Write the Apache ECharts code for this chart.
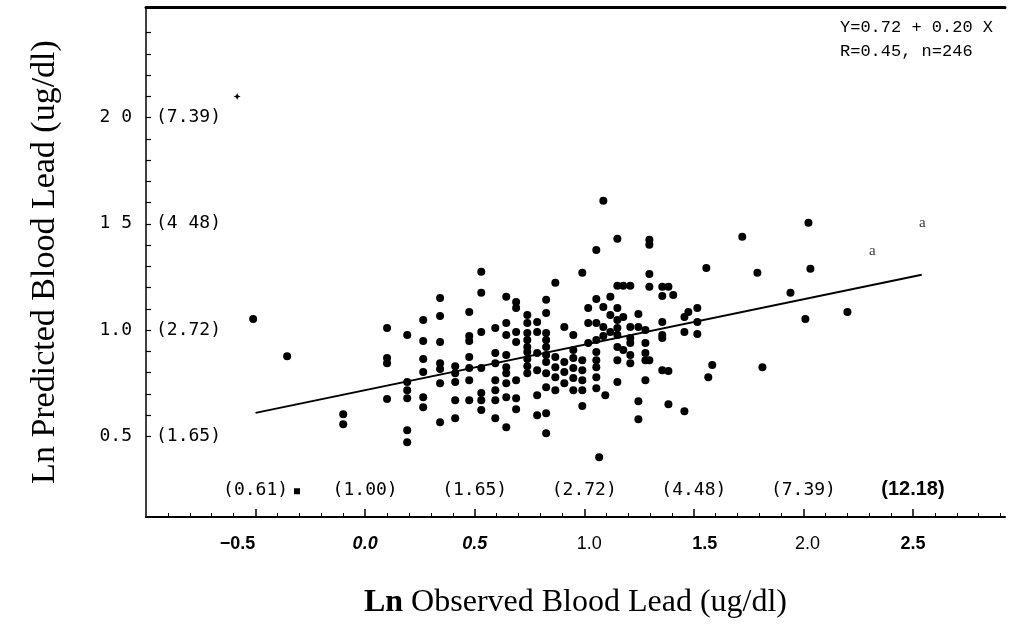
<!DOCTYPE html>
<html>
<head>
<meta charset="utf-8">
<script src="https://cdn.jsdelivr.net/npm/echarts@6/dist/echarts.min.js"></script>
<style>html,body{margin:0;padding:0;background:#fff;}#c{width:1010px;height:636px;}</style>
</head>
<body>
<div id="c"></div>
<script>
// ---- data ----
const obsColumns = [-0.511,-0.356,-0.100,0.100,0.192,0.265,0.342,0.411,0.475,0.530,0.594,0.644,0.689,0.740,0.785,0.826,0.868,0.909,0.950,0.991,1.018,1.055,1.068,1.087,1.096,1.119,1.151,1.178,1.210,1.247,1.279,1.297,1.356,1.384,1.406,1.457,1.475,1.516,1.557,1.566,1.584,1.721,1.790,1.813,1.941,2.009,2.023,2.032,2.201];
const predByColumn = [
  [1.052],
  [0.877],
  [0.604,0.557],
  [1.009,0.868,0.844,0.675],
  [0.976,0.755,0.717,0.679,0.528,0.472],
  [1.047,0.948,0.863,0.802,0.684,0.637],
  [1.151,1.066,0.943,0.844,0.816,0.750,0.566],
  [0.830,0.797,0.755,0.670,0.585],
  [1.085,0.972,0.948,0.873,0.821,0.764,0.670],
  [1.274,1.175,0.991,0.821,0.703,0.670,0.623],
  [1.009,0.892,0.844,0.764,0.717,0.670,0.585],
  [1.156,1.033,0.976,0.882,0.825,0.797,0.750,0.684,0.542],
  [1.132,1.104,0.991,0.943,0.764,0.679,0.627],
  [1.071,1.033,0.986,0.953,0.920,0.896,0.863,0.830,0.797],
  [1.038,0.991,0.892,0.811,0.693,0.599],
  [1.142,1.080,0.986,0.953,0.920,0.882,0.849,0.797,0.731,0.608,0.514],
  [1.222,0.873,0.825,0.778,0.717],
  [1.014,0.849,0.802,0.750],
  [0.976,0.906,0.868,0.821,0.774,0.717],
  [1.269,0.858,0.811,0.764,0.717,0.642],
  [1.104,1.033,0.939],
  [1.377,1.146,1.033,0.953,0.896,0.858,0.825,0.778,0.726],
  [0.401],
  [1.608,1.108,1.014,0.972],
  [0.693],
  [1.156,1.071,0.991],
  [1.429,1.208,1.104,1.047,1.009,0.976,0.920,0.858,0.755],
  [1.208,1.061,0.906],
  [1.208,1.014,0.962,0.939,0.882,0.844],
  [1.075,1.014,0.665,0.580],
  [1.000,0.939,0.892,0.858,0.764],
  [1.425,1.401,1.264,1.203,0.858],
  [1.203,1.160,1.038,0.976,0.962,0.811],
  [1.203,0.807,0.651],
  [1.165],
  [1.061,0.991,0.618],
  [1.085],
  [1.104,1.038,0.981],
  [1.292],
  [0.778],
  [0.835],
  [1.439],
  [1.269],
  [0.825],
  [1.175],
  [1.052],
  [1.505],
  [1.288],
  [1.085]
];
const starPoints = [[-0.584, 2.099]];
const crossPoints = [[-0.311, 0.241]];
const letterPoints = [[2.315, 1.373], [2.543, 1.505]];
const fitLine = [[-0.50, 0.61], [2.54, 1.26]];

const yTickValues = [0.5, 1.0, 1.5, 2.0];
const yTickLabels = ['0.5', '1.0', '1 5', '2 0'];
const yBackLabels = ['(1.65)', '(2.72)', '(4 48)', '(7.39)'];
const yMinorTicks = [0.5,0.6,0.7,0.8,0.9,1.0,1.1,1.2,1.3,1.4,1.5,1.6,1.7,1.8,1.9,2.0,2.1,2.2,2.3,2.4];
const xTickValues = [-0.5, 0, 0.5, 1.0, 1.5, 2.0, 2.5];
const xTickLabels = ['\u22120.5', '0.0', '0.5', '1.0', '1.5', '2.0', '2.5'];
const xBackLabels = ['(0.61)', '(1.00)', '(1.65)', '(2.72)', '(4.48)', '(7.39)', '(12.18)'];
const xMinorTicks = [-0.9,-0.8,-0.7,-0.6,-0.4,-0.3,-0.2,-0.1,0.1,0.2,0.3,0.4,0.6,0.7,0.8,0.9,1.1,1.2,1.3,1.4,1.6,1.7,1.8,1.9,2.1,2.2,2.3,2.4,2.6,2.7,2.8,2.9];

// ---- build ----
const dots = [];
obsColumns.forEach((x, i) => predByColumn[i].forEach(y => dots.push([x, y])));

function idxOf(arr, v) {
  for (let i = 0; i < arr.length; i++) if (Math.abs(arr[i] - v) < 1e-6) return i;
  return -1;
}
const mono = 'DejaVu Sans Mono';
const xStyles = ['s0','s1','s2','s3','s4','s5','s6'];
const xRich = {
  s0: {fontFamily:'Liberation Sans', fontWeight:'bold', fontSize:18, color:'#000', padding:[0,36,0,0]},
  s1: {fontFamily:'Liberation Sans', fontWeight:'bold', fontStyle:'italic', fontSize:18, color:'#000'},
  s2: {fontFamily:'Liberation Sans', fontWeight:'bold', fontStyle:'italic', fontSize:18, color:'#000'},
  s3: {fontFamily:'Liberation Sans', fontSize:18, color:'#000', padding:[0,0,0,10]},
  s4: {fontFamily:'Liberation Sans', fontWeight:'bold', fontSize:18, color:'#000', padding:[0,0,0,22]},
  s5: {fontFamily:'Liberation Sans', fontSize:18, color:'#000', padding:[0,0,0,8]},
  s6: {fontFamily:'Liberation Sans', fontWeight:'bold', fontSize:18, color:'#000'}
};
const xBackRich = {
  m: {fontFamily: mono, fontSize:18, color:'#000'},
  b: {fontFamily:'Liberation Sans', fontWeight:'bold', fontSize:20, color:'#000'}
};

const chart = echarts.init(document.getElementById('c'), null, {renderer:'canvas'});
const xMin = -1.0, xMax = 2.92, yMin = 0.12, yMax = 2.52;
chart.setOption({
  animation: false,
  backgroundColor: '#fff',
  title: {
    text: 'Y=0.72 + 0.20 X\nR=0.45, n=246',
    right: 12, top: 10,
    textStyle: {fontFamily:'Liberation Mono', fontSize:17, fontWeight:'normal', color:'#000', lineHeight:24}
  },
  grid: {left: 146, right: 5, top: 7, bottom: 119, containLabel: false},
  xAxis: [
    {
      type:'value', min:xMin, max:xMax, position:'bottom',
      axisLine:{show:true, onZero:false, lineStyle:{color:'#000', width:2}},
      axisTick:{show:true, inside:true, length:8, customValues:xTickValues, lineStyle:{color:'#000', width:1.5}},
      splitLine:{show:false},
      axisLabel:{show:true, margin:18, customValues:xTickValues,
        formatter: v => { const i = idxOf(xTickValues, v); return i < 0 ? '' : '{' + xStyles[i] + '|' + xTickLabels[i] + '}'; },
        rich: xRich},
      name: '{b|Ln} Observed Blood Lead (ug/dl)',
      nameLocation:'middle', nameGap:70,
      nameTextStyle:{fontFamily:'Liberation Serif', fontSize:32, color:'#000',
        rich:{b:{fontFamily:'Liberation Serif', fontWeight:'bold', fontSize:32, color:'#000'}}}
    },
    {
      type:'value', min:xMin, max:xMax, position:'bottom',
      axisLine:{show:false, onZero:false},
      axisTick:{show:true, inside:true, length:4, customValues:xMinorTicks, lineStyle:{color:'#000', width:1}},
      splitLine:{show:false},
      axisLabel:{show:true, inside:true, margin:18, customValues:xTickValues,
        formatter: v => { const i = idxOf(xTickValues, v); if (i < 0) return ''; return i === 6 ? '{b|' + xBackLabels[i] + '}' : '{m|' + xBackLabels[i] + '}'; },
        rich: xBackRich}
    },
    {
      type:'value', min:xMin, max:xMax, position:'top',
      axisLine:{show:true, onZero:false, lineStyle:{color:'#000', width:3}},
      axisTick:{show:false}, axisLabel:{show:false}, splitLine:{show:false}
    }
  ],
  yAxis: [
    {
      type:'value', min:yMin, max:yMax, position:'left',
      axisLine:{show:true, onZero:false, lineStyle:{color:'#000', width:1.5}},
      axisTick:{show:true, inside:true, length:5, customValues:yMinorTicks, lineStyle:{color:'#000', width:1.2}},
      splitLine:{show:false},
      axisLabel:{show:true, margin:14, customValues:yTickValues,
        formatter: v => { const i = idxOf(yTickValues, v); return i < 0 ? '' : yTickLabels[i]; },
        fontFamily: mono, fontSize:18, color:'#000'},
      name: 'Ln Predicted Blood Lead (ug/dl)',
      nameLocation:'middle', nameGap:84,
      nameTextStyle:{fontFamily:'Liberation Serif', fontSize:34, color:'#000'}
    },
    {
      type:'value', min:yMin, max:yMax, position:'left',
      axisLine:{show:false, onZero:false},
      axisTick:{show:false}, splitLine:{show:false},
      axisLabel:{show:true, inside:true, margin:10, customValues:yTickValues,
        formatter: v => { const i = idxOf(yTickValues, v); return i < 0 ? '' : yBackLabels[i]; },
        fontFamily: mono, fontSize:18, color:'#000'}
    }
  ],
  series: [
    {
      type:'scatter', xAxisIndex:0, yAxisIndex:0, data: dots,
      symbol:'circle', symbolSize:8, itemStyle:{color:'#000', opacity:1}, silent:true
    },
    {
      type:'scatter', xAxisIndex:0, yAxisIndex:0, data: starPoints,
      symbol:'path://M0,-10 L3,-3 L10,0 L3,3 L0,10 L-3,3 L-10,0 L-3,-3 Z',
      symbolSize:7, itemStyle:{color:'#000', opacity:1}, silent:true
    },
    {
      type:'scatter', xAxisIndex:0, yAxisIndex:0, data: crossPoints,
      symbol:'path://M-10,-10 L10,-10 L10,10 L-10,10 Z M-4,-4 L4,4 Z',
      symbolSize:6, itemStyle:{color:'#000', opacity:1}, silent:true
    },
    {
      type:'scatter', xAxisIndex:0, yAxisIndex:0, data: letterPoints,
      symbolSize:1, itemStyle:{color:'rgba(0,0,0,0)'}, silent:true,
      label:{show:true, position:'inside', formatter:'a', fontFamily:'Liberation Serif', fontSize:15, color:'#000'}
    },
    {
      type:'line', xAxisIndex:0, yAxisIndex:0, data: fitLine,
      symbol:'none', lineStyle:{color:'#000', width:2}, silent:true
    }
  ]
});
</script>
</body>
</html>
